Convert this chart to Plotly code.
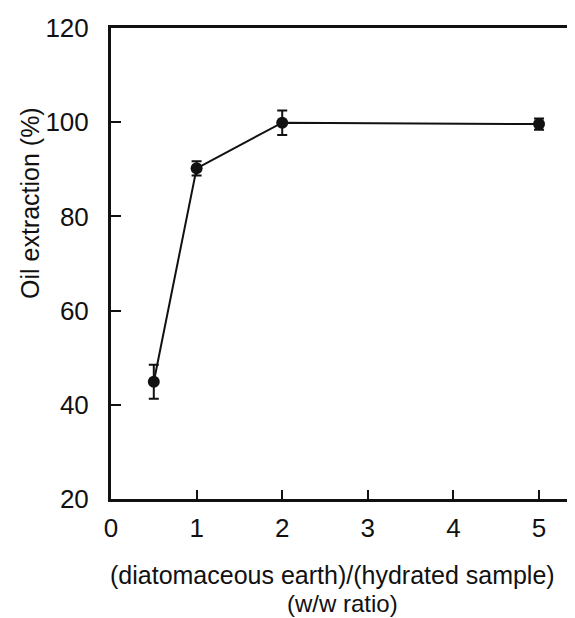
import plotly.graph_objects as go

ratio = [0.5, 1, 2, 5]
oil_extraction = [44.9, 90.2, 99.9, 99.6]
error = [3.6, 1.5, 2.6, 1.2]
x_ticks = [0, 1, 2, 3, 4, 5]
y_ticks = [20, 40, 60, 80, 100, 120]

fig = go.Figure()
fig.add_trace(go.Scatter(
    x=ratio, y=oil_extraction,
    mode="lines+markers",
    line=dict(color="#111111", width=2),
    marker=dict(color="#111111", size=12),
    error_y=dict(type="data", array=error, visible=True, color="#111111", thickness=2, width=5),
    showlegend=False,
))

font = "Liberation Sans, Arial, Helvetica, sans-serif"
fig.update_layout(
    width=567, height=610,
    margin=dict(l=103, r=0, t=20, b=119),
    paper_bgcolor="white", plot_bgcolor="white",
    font=dict(family=font, color="#111111", size=26),
    xaxis=dict(range=[0, 5.42], tickvals=x_ticks, ticks="inside", ticklen=9, tickwidth=2,
               tickcolor="#111111", showline=True, linewidth=3, linecolor="#111111",
               mirror=True, showgrid=False, zeroline=False, ticklabelstandoff=4,
               tickfont=dict(size=26)),
    yaxis=dict(range=[20, 120], tickvals=y_ticks, ticks="inside", ticklen=10, tickwidth=2,
               tickcolor="#111111", showline=True, linewidth=3, linecolor="#111111",
               showgrid=False, zeroline=False, ticklabelstandoff=14,
               tickfont=dict(size=26)),
    annotations=[
        dict(text="(diatomaceous earth)/(hydrated sample)",
             x=0.478, y=-0.161, xref="paper", yref="paper", showarrow=False,
             font=dict(size=25, family=font, color="#111111"), xanchor="center", yanchor="middle"),
        dict(text="(w/w ratio)",
             x=0.498, y=-0.222, xref="paper", yref="paper", showarrow=False,
             font=dict(size=24, family=font, color="#111111"), xanchor="center", yanchor="middle"),
        dict(text="Oil extraction (%)", textangle=-90,
             x=-0.175, y=0.628, xref="paper", yref="paper", showarrow=False,
             font=dict(size=25, family=font, color="#111111"), xanchor="center", yanchor="middle"),
    ],
)

fig.write_html("out.html")
